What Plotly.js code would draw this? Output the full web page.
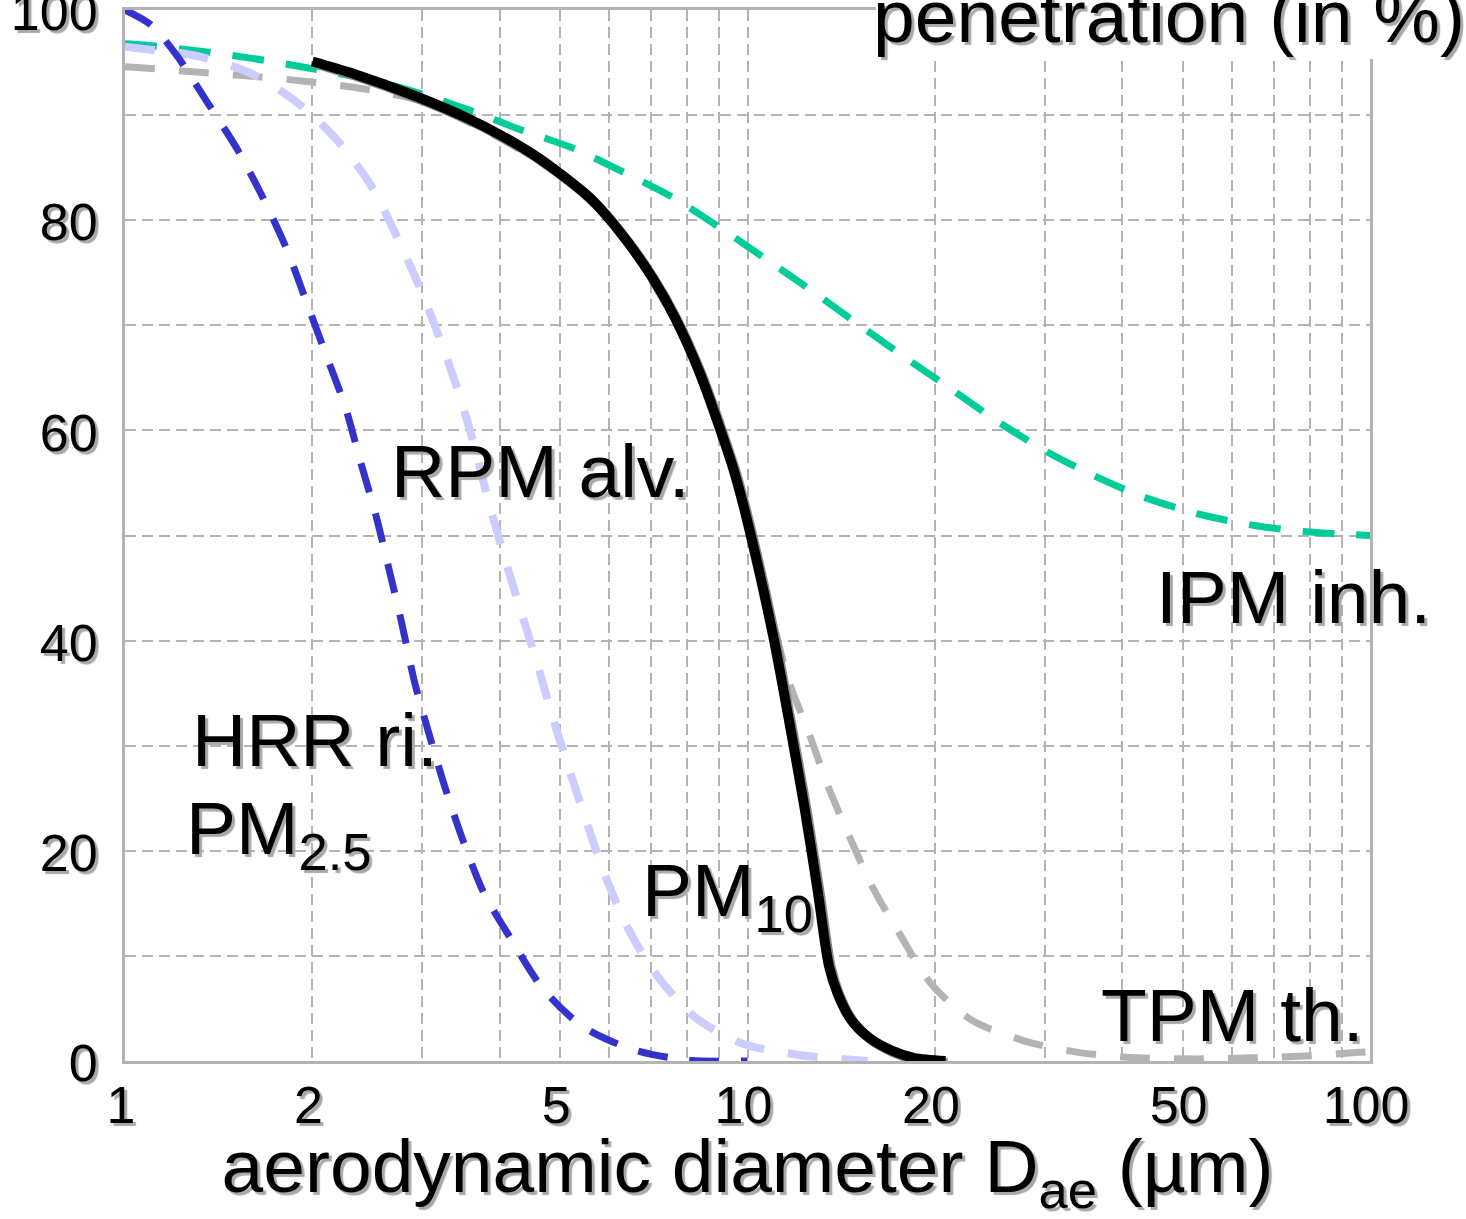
<!DOCTYPE html>
<html>
<head>
<meta charset="utf-8">
<script src="https://cdn.plot.ly/plotly-3.0.1.min.js"></script>
<style>
html, body { margin: 0; padding: 0; background: #ffffff; }
#chart { width: 1466px; height: 1219px; }
.scatterlayer .trace:last-child path.js-line { filter: drop-shadow(2px 2px 0px #8a8a8a); }
</style>
</head>
<body>
<div id="chart"></div>
<script>
// ---- data (diameter in µm, penetration in %) ----
const hrrDiam = [1, 1.1, 1.21, 1.36, 1.52, 1.67, 1.82, 1.96, 2.1, 2.26, 2.39, 2.53, 2.67, 2.78, 2.92, 3.09, 3.28, 3.5, 3.77, 4.16, 4.69, 5.43, 6.54, 8.0, 10];
const hrrPen  = [100, 98.6, 95.7, 91.1, 86.6, 82.0, 77.2, 72.1, 67.3, 62.2, 57.0, 51.9, 46.2, 41.8, 36.0, 30.8, 25.7, 20.8, 16.0, 11.7, 6.9, 3.3, 1.1, 0.1, 0];

const rpmDiam = [1, 1.07, 1.31, 1.59, 1.9, 2.2, 2.49, 2.73, 2.97, 3.21, 3.43, 3.63, 3.82, 4.02, 4.33, 4.6, 4.87, 5.18, 5.53, 5.92, 6.43, 7.14, 8.22, 9.78, 12, 15.6];
const rpmPen  = [96.5, 96.3, 95.6, 94.0, 91.1, 87.5, 83.2, 78.5, 73.7, 68.6, 63.7, 58.8, 53.7, 49.0, 42.7, 37.7, 32.6, 27.6, 22.5, 17.5, 12.6, 8.2, 4.2, 1.7, 0.6, 0];

const ipmDiam = [1, 1.06, 1.31, 1.6, 1.96, 2.5, 3, 3.64, 4.32, 5.27, 6.35, 7.62, 9.13, 10.83, 12.88, 15.22, 18.05, 21.4, 25.3, 30.2, 36, 43.1, 53.3, 66, 81.1, 100];
const ipmPen  = [96.8, 96.7, 96.1, 95.4, 94.5, 93.3, 92.0, 90.3, 88.6, 86.8, 84.5, 82.1, 79.1, 76.1, 73.0, 69.9, 66.8, 63.8, 60.8, 58.0, 55.7, 53.7, 52.0, 50.9, 50.3, 50.0];

const tpmDiam = [1, 1.06, 1.3, 1.6, 1.96, 2.42, 3, 4, 5, 6, 7, 8, 9, 10, 10.9, 11.64, 12.55, 13.52, 14.57, 15.86, 17.63, 19.69, 22.9, 27.9, 34.2, 42.4, 52.7, 65, 80, 95, 100];
const tpmPen  = [94.6, 94.5, 94.1, 93.7, 93.2, 92.5, 91.3, 87.8, 84.2, 80.0, 74.4, 68.0, 60.4, 51.0, 42.7, 36.2, 31.2, 25.9, 21.4, 16.6, 11.9, 7.4, 3.9, 1.9, 0.8, 0.3, 0.2, 0.3, 0.5, 0.8, 0.9];

const pm10Diam = [2, 2.31, 2.96, 3.55, 4.01, 4.54, 4.98, 5.61, 6.35, 7.02, 7.65, 8.35, 8.99, 9.56, 10.17, 10.99, 11.65, 12.34, 12.97, 13.51, 13.97, 14.68, 15.69, 17.05, 18.5, 20.8];
const pm10Pen  = [95.1, 94.0, 91.7, 89.7, 88.1, 86.2, 84.5, 82.0, 78.3, 74.6, 70.7, 65.7, 60.5, 55.7, 49.5, 40.5, 32.5, 24.2, 16.1, 9.1, 6.35, 3.9, 2.2, 1.0, 0.3, 0];

const xTickVals  = [1, 2, 5, 10, 20, 50, 100];
const xTickText  = ['1', '2', '5', '10', '20', '50', '100'];
const xMinorVals = [3, 4, 6, 7, 8, 9, 30, 40, 60, 70, 80, 90];
const yTickVals  = [0, 20, 40, 60, 80, 100];
const yTickText  = ['0', '20', '40', '60', '80', '100'];

const curveLabels = ['RPM alv.', 'HRR ri.', 'PM<sub>2.5</sub>', 'PM<sub>10</sub>', 'IPM inh.', 'TPM th.'];
const yTitle = 'penetration (in %)';
const xTitle = 'aerodynamic diameter D<sub>ae</sub> (µm)';

// ---- styling ----
const FONT = 'Liberation Sans, Arial, Helvetica, sans-serif';
const SHADOW = '3px 3px 1px #a8a8a8';
const GRID = '#b3b3b3';

function curve(x, y, color, width, dash) {
  return {
    x: x, y: y, type: 'scatter', mode: 'lines',
    line: { color: color, width: width, dash: dash, shape: 'spline', smoothing: 0.8 },
    hoverinfo: 'skip', showlegend: false
  };
}

const traces = [
  curve(tpmDiam, tpmPen, '#b3b3b3', 7, '30px,24px'),
  curve(ipmDiam, ipmPen, '#00cc99', 7, '32px,22px'),
  curve(rpmDiam, rpmPen, '#ccccff', 8, '30px,24px'),
  curve(hrrDiam, hrrPen, '#3333cc', 7, '30px,22px'),
  curve(pm10Diam, pm10Pen, '#000000', 10, 'solid')
];

function label(text, xlog, y) {
  return {
    text: text, xref: 'x', yref: 'y', x: xlog, y: y,
    xanchor: 'left', yanchor: 'top', showarrow: false,
    font: { family: FONT, size: 75, color: '#000', shadow: SHADOW }
  };
}

const layout = {
  width: 1466, height: 1219,
  margin: { l: 125, r: 96, t: 10, b: 158, pad: 0 },
  paper_bgcolor: '#ffffff', plot_bgcolor: '#ffffff',
  font: { family: FONT, color: '#000' },
  showlegend: false,
  xaxis: {
    type: 'log', range: [0, 2],
    tickmode: 'array', tickvals: xTickVals, ticktext: xTickText,
    ticks: '', ticklabelstandoff: -3, ticklabelshift: -4, ticklabeloverflow: 'allow',
    tickfont: { family: FONT, size: 52, color: '#000', shadow: SHADOW },
    showgrid: true, gridcolor: GRID, gridwidth: 2, griddash: '11px,6px',
    minor: { tickmode: 'array', tickvals: xMinorVals, showgrid: true, gridcolor: GRID, gridwidth: 2, griddash: '11px,6px', ticks: '' },
    showline: true, linecolor: GRID, linewidth: 3, mirror: true,
    zeroline: false, fixedrange: true,
    title: { text: xTitle, standoff: 28, font: { family: FONT, size: 75, color: '#000', shadow: SHADOW } }
  },
  yaxis: {
    range: [0, 100],
    tickmode: 'array', tickvals: yTickVals, ticktext: yTickText,
    ticks: '', ticklabelstandoff: 14, ticklabelshift: 2, ticklabeloverflow: 'allow',
    tickfont: { family: FONT, size: 52, color: '#000', shadow: SHADOW },
    showgrid: true, gridcolor: GRID, gridwidth: 2, griddash: '11px,6px',
    minor: { dtick: 10, showgrid: true, gridcolor: GRID, gridwidth: 2, griddash: '11px,6px', ticks: '' },
    showline: true, linecolor: GRID, linewidth: 3, mirror: true,
    zeroline: false, fixedrange: true
  },
  shapes: [
    { type: 'rect', xref: 'paper', yref: 'paper', layer: 'above',
      x0: 0.6032, x1: 1.2, y0: 0.9534, y1: 1.05,
      fillcolor: '#ffffff', line: { width: 0 } }
  ],
  annotations: [
    { text: yTitle, xref: 'paper', yref: 'paper', x: 1.0777, y: 0.9943,
      xanchor: 'right', yanchor: 'middle', showarrow: false,
      font: { family: FONT, size: 75, color: '#000', shadow: SHADOW } },
    label(curveLabels[0], 0.4246, 60.3),
    label(curveLabels[1], 0.1044, 34.7),
    label(curveLabels[2], 0.0953, 26.4),
    label(curveLabels[3], 0.8278, 20.5),
    label(curveLabels[4], 1.6530, 48.3),
    label(curveLabels[5], 1.5652, 8.6)
  ]
};

Plotly.newPlot('chart', traces, layout, { staticPlot: true, displayModeBar: false }).then(function (gd) {
  // let the curves lying on the frame be drawn full width, as in the reference
  gd.querySelectorAll('.cartesianlayer [clip-path]').forEach(function (el) {
    if (el.closest('.scatterlayer') || el.classList.contains('plot')) el.removeAttribute('clip-path');
  });
});
</script>
</body>
</html>
